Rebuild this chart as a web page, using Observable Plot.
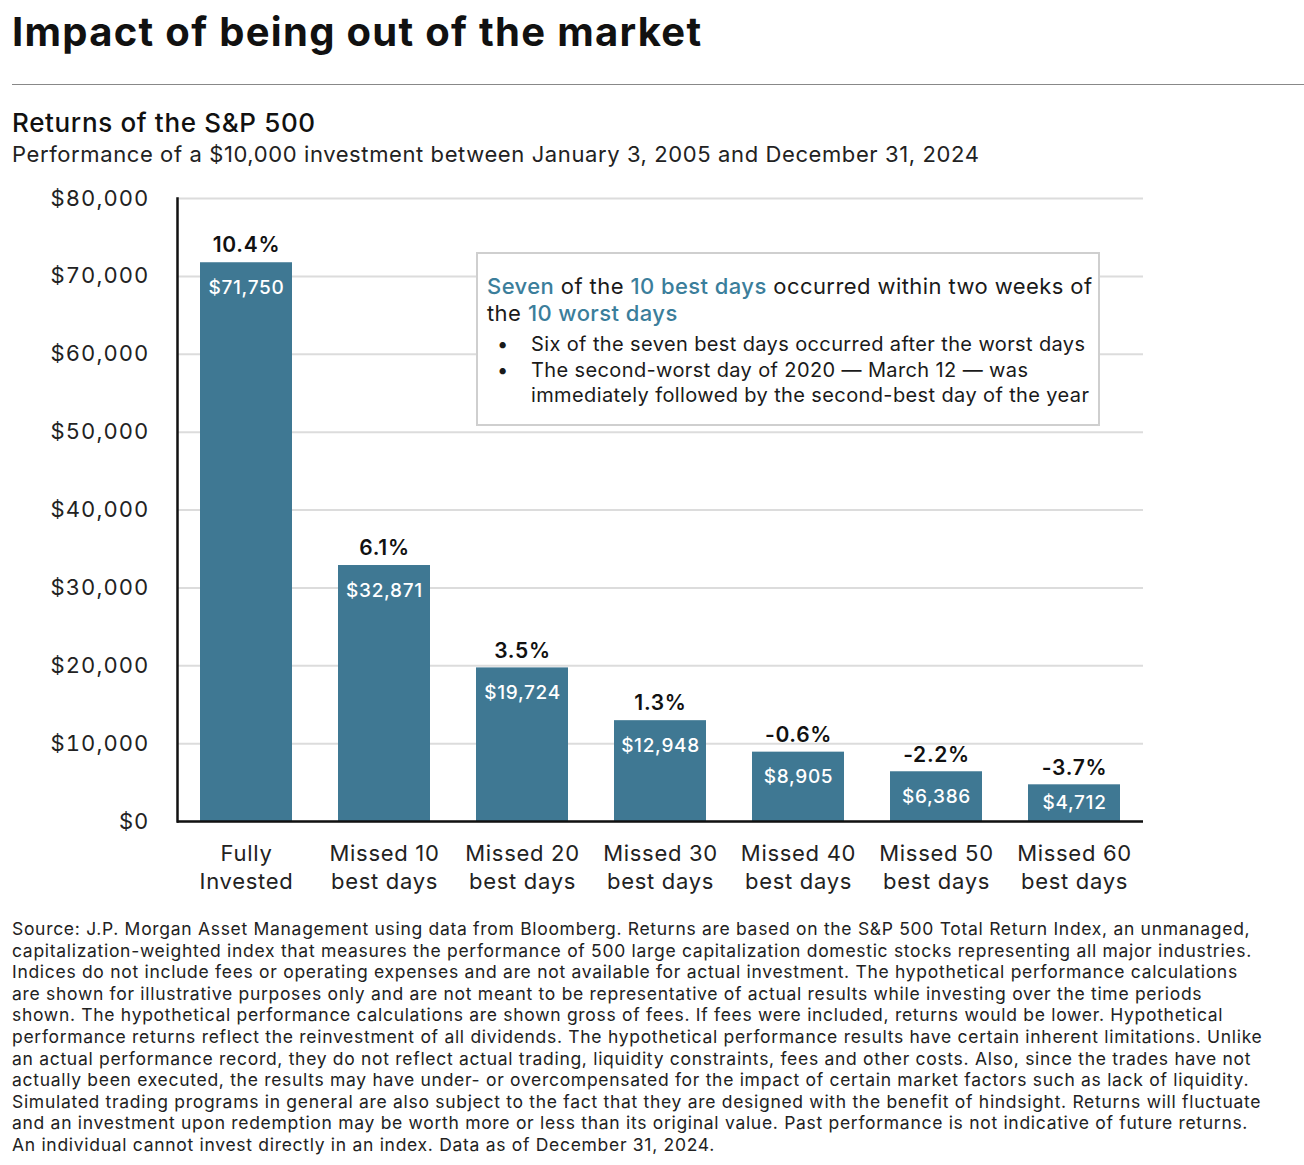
<!DOCTYPE html>
<html>
<head>
<meta charset="utf-8">
<script src="https://cdn.jsdelivr.net/npm/d3@7"></script>
<script src="https://cdn.jsdelivr.net/npm/@observablehq/plot@0.6"></script>
<style>
  html, body { margin: 0; padding: 0; background: #fff; }
  body { font-family: Inter, "Noto Sans", sans-serif; color: #1a1a1a; }
  #page { position: relative; width: 1304px; height: 1165px; overflow: hidden; }
  .abs { position: absolute; white-space: nowrap; }
  #title { left: 12px; top: 8px; font-size: 40px; font-weight: 700; line-height: 48px; color: #111; letter-spacing: 1.3px; }
  #rule { left: 12px; top: 84px; width: 1292px; height: 0; border-top: 1.5px solid #888; }
  #sub1 { left: 12px; top: 107px; font-size: 26px; font-weight: 500; line-height: 32px; color: #111; letter-spacing: 0.65px; }
  #sub2 { left: 12px; top: 140px; font-size: 22px; line-height: 28px; color: #222; letter-spacing: 0.6px; }
  #chart { left: 0; top: 180px; }
  #chart text { letter-spacing: 0.7px; }
  #chart g[aria-label="y-axis tick label"] text { letter-spacing: 1.1px; }
  #note { left: 476px; top: 252px; width: 620px; height: 170px; border: 2px solid #cfcfcf; background: #fff; }
  #note .head { position: absolute; left: 9px; top: 19px; font-size: 22px; line-height: 27px; color: #1a1a1a; letter-spacing: 0.42px; }
  #note .hl { color: #3b7e9b; font-weight: 500; }
  #note ul { position: absolute; left: 0; top: 78px; margin: 0; padding: 0; list-style: none; font-size: 20px; line-height: 25.5px; color: #1a1a1a; letter-spacing: 0.38px; }
  #note li { position: relative; padding-left: 53px; }
  #note li .b { position: absolute; left: 19px; }
  #foot { left: 12px; top: 918px; font-size: 17.5px; line-height: 21.6px; color: #222; letter-spacing: 0.7px; }
</style>
</head>
<body>
<div id="page">
  <div id="title" class="abs">Impact of being out of the market</div>
  <div id="rule" class="abs"></div>
  <div id="sub1" class="abs">Returns of the S&amp;P 500</div>
  <div id="sub2" class="abs">Performance of a $10,000 investment between January 3, 2005 and December 31, 2024</div>
  <div id="chart" class="abs"></div>
  <div id="note" class="abs">
    <div class="head"><span class="hl">Seven</span> of the <span class="hl">10 best days</span> occurred within two weeks of<br>the <span class="hl">10 worst days</span></div>
    <ul>
      <li><span class="b">•</span>Six of the seven best days occurred after the worst days</li>
      <li><span class="b">•</span>The second-worst day of 2020 — March 12 — was<br>immediately followed by the second-best day of the year</li>
    </ul>
  </div>
  <div id="foot" class="abs">Source: J.P. Morgan Asset Management using data from Bloomberg. Returns are based on the S&amp;P 500 Total Return Index, an unmanaged,<br>capitalization-weighted index that measures the performance of 500 large capitalization domestic stocks representing all major industries.<br>Indices do not include fees or operating expenses and are not available for actual investment. The hypothetical performance calculations<br>are shown for illustrative purposes only and are not meant to be representative of actual results while investing over the time periods<br>shown. The hypothetical performance calculations are shown gross of fees. If fees were included, returns would be lower. Hypothetical<br>performance returns reflect the reinvestment of all dividends. The hypothetical performance results have certain inherent limitations. Unlike<br>an actual performance record, they do not reflect actual trading, liquidity constraints, fees and other costs. Also, since the trades have not<br>actually been executed, the results may have under- or overcompensated for the impact of certain market factors such as lack of liquidity.<br>Simulated trading programs in general are also subject to the fact that they are designed with the benefit of hindsight. Returns will fluctuate<br>and an investment upon redemption may be worth more or less than its original value. Past performance is not indicative of future returns.<br>An individual cannot invest directly in an index. Data as of December 31, 2024.</div>
</div>
<script>
const categories = ["Fully Invested", "Missed 10 best days", "Missed 20 best days", "Missed 30 best days", "Missed 40 best days", "Missed 50 best days", "Missed 60 best days"];
const categoryLabels = ["Fully\nInvested", "Missed 10\nbest days", "Missed 20\nbest days", "Missed 30\nbest days", "Missed 40\nbest days", "Missed 50\nbest days", "Missed 60\nbest days"];
const values = [71750, 32871, 19724, 12948, 8905, 6386, 4712];
const returns = ["10.4%", "6.1%", "3.5%", "1.3%", "-0.6%", "-2.2%", "-3.7%"];
const yTicks = [0, 10000, 20000, 30000, 40000, 50000, 60000, 70000, 80000];

const data = categories.map((c, i) => ({cat: c, label: categoryLabels[i], value: values[i], ret: returns[i]}));
const money = d => "$" + d3.format(",")(d);
const barColor = "#3f7893";

const chart = Plot.plot({
  width: 1304,
  height: 720,
  marginLeft: 177,
  marginRight: 161,
  marginTop: 18,
  marginBottom: 79,
  style: {fontFamily: "Inter, 'Noto Sans', sans-serif", fontSize: "22px", color: "#222", background: "#fff"},
  x: {domain: categories, paddingInner: 0.335, paddingOuter: 0.1675, axis: null},
  y: {domain: [0, 80000], axis: null},
  marks: [
    Plot.gridY(yTicks, {stroke: "#dcdcdc", strokeOpacity: 1, strokeWidth: 2}),
    Plot.axisY(yTicks, {tickSize: 0, tickPadding: 28, tickFormat: money, fontSize: 22, fill: "#222", label: null}),
    Plot.barY(data, {x: "cat", y: "value", fill: barColor}),
    Plot.text(data, {x: "cat", y: d => Math.max(d.value - 3200, d.value / 2), text: d => money(d.value), fill: "#fff", fontSize: 19, fontWeight: 500}),
    Plot.text(data, {x: "cat", y: "value", dy: -17, text: "ret", fill: "#111", fontSize: 21, fontWeight: 600}),
    Plot.text(data, {x: "cat", y: 0, text: "label", lineAnchor: "top", dy: 20, fontSize: 22, lineHeight: 1.27, fill: "#222"}),
    Plot.frame({anchor: "left", stroke: "#111", strokeWidth: 2.5}),
    Plot.ruleY([0], {stroke: "#111", strokeWidth: 2.5})
  ]
});
document.getElementById("chart").appendChild(chart);
</script>
</body>
</html>
